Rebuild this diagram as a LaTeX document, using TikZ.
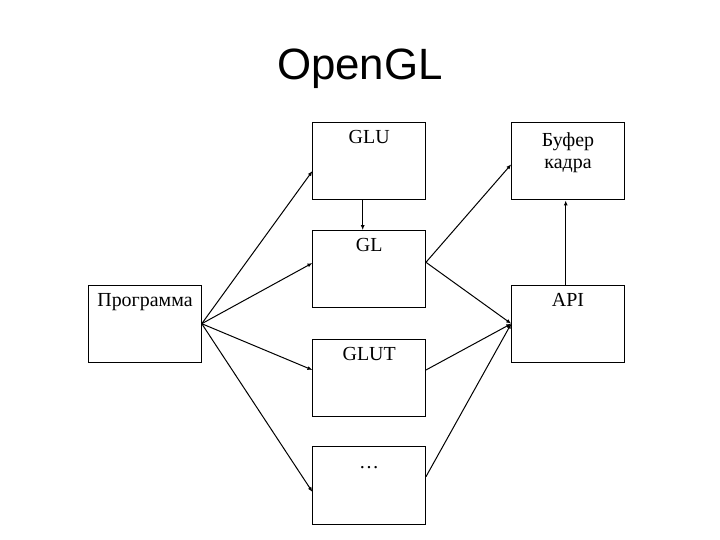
\documentclass[tikz,border=0pt]{standalone}
\usepackage{fontspec}
\setmainfont{Liberation Serif}
\newfontfamily\titlefont{Liberation Sans}
\usepackage{tikz}
\usetikzlibrary{arrows.meta}

\begin{document}
\begin{tikzpicture}[x=1bp,y=-1bp,line width=1bp,
        blk/.style={draw,rectangle,inner sep=0pt,minimum width=112.5bp,minimum height=77.3bp},
        txt/.style={anchor=base,yshift=#1,inner sep=0pt,align=center,
                    font=\fontsize{20}{22}\selectfont},
        txt/.default=-21.8bp,
        arr/.style={-{Latex[length=5bp,width=4bp]}}]
            \useasboundingbox (0,0) rectangle (720,540);
            \def\colA{145}
            \def\colB{369.2}
            \def\colC{568}
            \node [anchor=base,font=\titlefont\fontsize{44}{48}\selectfont] (title) at (360,80) {OpenGL};

            % boxes
            \node [blk,label={[txt]north:Программа}] (prog) at (\colA,323.7) {};
            \node [blk,label={[txt]north:GLU}] (glu) at (\colB,161.3) {};
            \node [blk,label={[txt]north:GL}] (gl) at (\colB,269.3) {};
            \node [blk,label={[txt]north:GLUT}] (glut) at (\colB,378) {};
            \node [blk,label={[txt]north:\ldots}] (dots) at (\colB,485.5) {};
            \node [blk,label={[txt=-46.6bp]north:Буфер\\кадра}] (buf) at (\colC,161.3) {};
            \node [blk,label={[txt]north:API}] (api) at (\colC,323.7) {};

            % program to libraries
            \draw [arr] (prog.east) -- ([yshift=-9.7bp]glu.west);
            \draw [arr] (prog.east) -- ([yshift=6.3bp]gl.west);
            \draw [arr] (prog.east) -- ([yshift=8bp]glut.west);
            \draw [arr] (prog.east) -- ([yshift=-6.5bp]dots.west);
            \draw [arr] ([xshift=-6.5bp]glu.south) -- ([xshift=-6.5bp]gl.north);

            % libraries to output
            \draw [arr] ([yshift=7bp]gl.east) -- ([yshift=-3bp]buf.west);
            \draw [arr] ([yshift=7bp]gl.east) -- (api.west);
            \draw [arr] ([yshift=8bp]glut.east) -- (api.west);
            \draw [arr] ([yshift=8.8bp]dots.east) -- (api.west);
            \draw [arr] ([xshift=-2.3bp]api.north) -- ([xshift=-2.3bp]buf.south);
        \end{tikzpicture}
\end{document}
